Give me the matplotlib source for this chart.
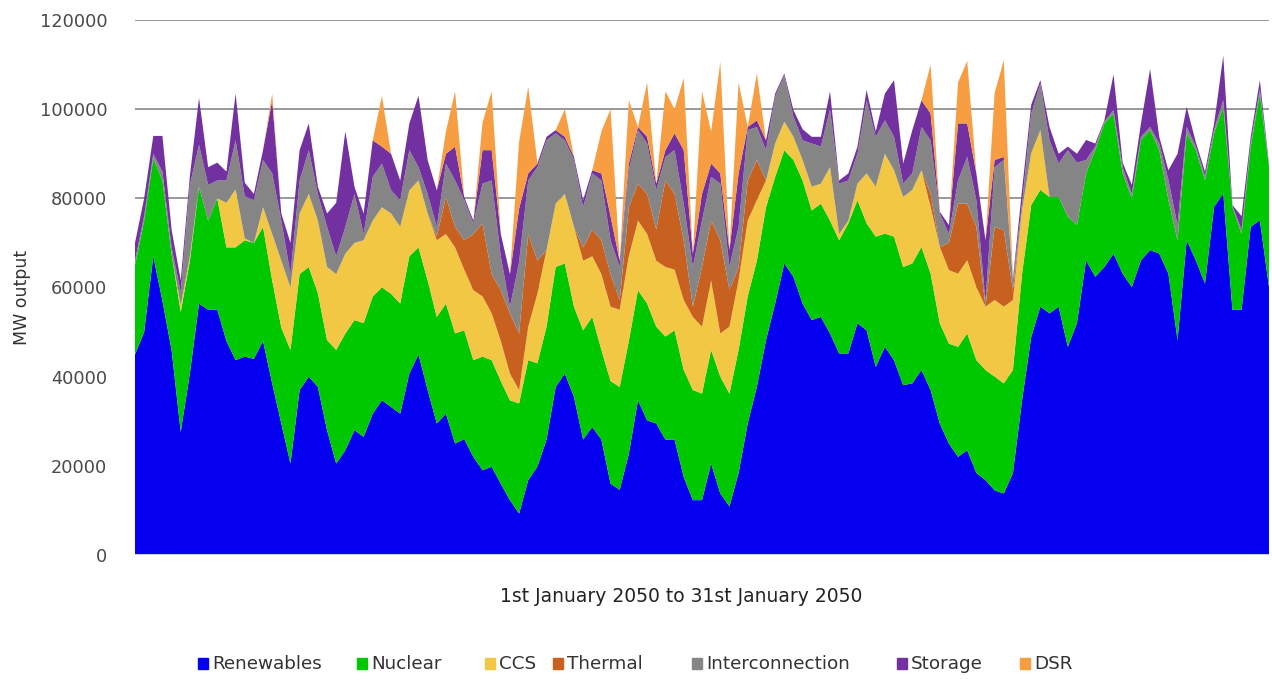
import matplotlib.pyplot as plt
import numpy as np
from matplotlib.patches import Rectangle

# hours through January 2050, one reading every 6 hours
hours = np.arange(0, 745, 6)

series_names = ['Renewables', 'Nuclear', 'CCS', 'Thermal', 'Interconnection', 'Storage', 'DSR']

renewables = [45000, 50000, 67000, 57000, 46000, 27600, 40700, 56400, 55000, 55000,
              48000, 43700, 44500, 44000, 48000, 38500, 29500, 20500, 37000, 40000,
              37700, 28000, 20500, 23500, 28000, 26500, 31700, 34700, 33200, 31700,
              40700, 45000, 37000, 29500, 31700, 25000, 26000, 22000, 19000, 19800,
              16000, 12300, 9300, 16800, 19800, 25900, 37700, 40700, 35500, 25900,
              28700, 25900, 16000, 14600, 22700, 34700, 30200, 29500, 25900, 25900,
              17500, 12300, 12300, 20500, 13800, 10900, 18400, 29500, 37700, 48200,
              56400, 65400, 62400, 56400, 52700, 53400, 49700, 45200, 45200, 52000,
              50400, 42200, 46700, 43700, 38100, 38500, 41500, 37000, 29500, 25000,
              22000, 23500, 18400, 16800, 14500, 13800, 18400, 34700, 48900, 55700,
              54200, 55700, 46700, 52000, 66100, 62400, 64600, 67600, 63100, 60100,
              66100, 68400, 67600, 63100, 48200, 70600, 66100, 60900, 78100, 81100,
              55000, 55000, 73600, 75100, 60100]

nuclear = [20000, 25000, 22000, 27000, 21500, 26900, 25300, 26200, 20000, 25000,
           21000, 25300, 26100, 26000, 25600, 23100, 21500, 25500, 26000, 24600,
           21000, 20200, 25500, 26200, 24700, 25500, 26300, 25300, 25400, 24700,
           26300, 24000, 24600, 23900, 24700, 24700, 24400, 21700, 25500, 23900,
           23000, 22400, 24700, 26900, 23200, 25300, 26900, 24700, 20200, 24500,
           24700, 20100, 23000, 23100, 25300, 24700, 26200, 21700, 23100, 24500,
           24000, 24700, 23900, 25500, 26200, 25300, 27600, 28500, 28300, 29800,
           28400, 25400, 26200, 27600, 24600, 25400, 25300, 25400, 29200, 27600,
           24000, 29200, 25400, 27700, 26500, 26900, 27600, 26100, 22500, 22400,
           24700, 26200, 25300, 24700, 25500, 24700, 23100, 28400, 29600, 26200,
           26100, 24600, 29200, 22000, 19500, 28400, 32200, 31400, 22500, 19900,
           27000, 26900, 23200, 16500, 22400, 24000, 24700, 23200, 16500, 19400,
           23100, 17000, 18000, 28400, 27000]

ccs = [0, 0, 0, 0, 0, 1500, 1000, 0, 0, 0,
       10000, 13000, 400, 0, 4400, 10400, 15000, 14000, 13600, 16400,
       16300, 16400, 17000, 17900, 17300, 18600, 17000, 18000, 18000, 17200,
       14800, 15000, 15000, 17200, 15600, 19300, 13600, 15700, 13500, 10500,
       9000, 6000, 3000, 7500, 15600, 17200, 14200, 15600, 17900, 15600,
       13600, 17000, 16700, 17300, 19000, 15600, 15600, 14800, 15600, 13600,
       15700, 16400, 15000, 15600, 9700, 15000, 15600, 17000, 13600, 6000,
       7500, 6400, 5200, 4600, 5300, 4500, 12000, 1400, 600, 3700,
       11200, 11200, 17900, 14900, 15700, 16500, 17200, 15000, 17100, 16500,
       16400, 16400, 16400, 14200, 17200, 17200, 15700, 14300, 11600, 13400,
       0, 0, 0, 0, 0, 0, 0, 0, 0, 0,
       0, 0, 0, 0, 0, 0, 0, 0, 0, 0,
       0, 0, 0, 0, 0]

thermal = [0, 0, 0, 0, 0, 0, 0, 0, 0, 0,
           0, 0, 0, 0, 0, 0, 0, 0, 0, 0,
           0, 0, 0, 0, 0, 0, 0, 0, 0, 0,
           0, 0, 0, 800, 8300, 4600, 6600, 12600, 16400, 8800,
           11400, 13500, 12700, 20800, 7400, 0, 0, 0, 0, 3000,
           6000, 7600, 7300, 2200, 11000, 8300, 9000, 7000, 19400, 17000,
           13400, 2300, 13400, 13400, 20900, 8200, 3000, 9000, 9000, 0,
           0, 0, 0, 0, 0, 0, 0, 0, 0, 0,
           0, 0, 0, 0, 0, 0, 0, 2900, 0, 6100,
           15700, 12700, 13500, 0, 16400, 17200, 2200, 0, 0, 0,
           0, 0, 0, 0, 0, 0, 0, 0, 0, 0,
           0, 0, 0, 0, 0, 0, 0, 0, 0, 0,
           0, 0, 0, 0, 0]

interconnection = [1000, 1000, 1000, 2000, 1500, 3000, 16000, 9400, 8000, 4000,
                   5000, 11000, 9500, 9600, 10600, 13600, 9000, 3000, 7400, 9800,
                   6000, 9000, 4000, 6000, 11000, 1400, 9800, 9800, 5200, 6000,
                   9000, 3000, 4400, 2200, 7500, 10400, 9000, 2400, 8900, 21000,
                   7600, 1500, 16000, 12000, 21000, 24600, 15800, 12000, 15000, 9000,
                   12600, 13400, 7600, 7400, 8300, 12000, 11300, 8800, 5300, 9800,
                   8200, 8900, 10400, 9800, 12700, 5200, 9000, 11300, 7400, 6800,
                   10500, 10400, 4500, 4400, 9700, 8300, 13000, 11300, 9000, 6700,
                   16400, 11200, 7500, 7500, 3000, 3700, 9700, 12000, 7500, 2000,
                   5200, 10500, 6000, 1300, 13400, 15700, 2200, 1600, 8900, 10500,
                   12700, 7500, 14900, 14000, 3000, 800, 400, 800, 1400, 1000,
                   700, 700, 1500, 4500, 3400, 1400, 800, 900, 900, 1500,
                   200, 1000, 900, 1000, 400]

storage = [4000, 4000, 4000, 8000, 4000, 2600, 2000, 10500, 4000, 4000,
           2000, 10500, 3000, 1400, 2200, 16400, 1600, 7000, 6800, 6000,
           1600, 3000, 12000, 21400, 1600, 4600, 8200, 3800, 8200, 4400,
           6000, 16000, 7600, 8200, 2200, 7600, 700, 600, 7500, 6800,
           5000, 7300, 12000, 1600, 800, 800, 700, 800, 700, 1600,
           700, 1600, 5400, 1400, 1500, 700, 1500, 1500, 1500, 3800,
           12000, 3000, 6000, 3000, 2300, 3800, 12000, 700, 1500, 2200,
           700, 400, 1500, 2500, 1500, 2200, 4000, 700, 1600, 1600,
           2300, 1200, 6000, 12700, 4500, 9700, 6000, 6000, 400, 2000,
           12800, 7500, 6000, 13600, 1600, 700, 400, 3000, 2000, 700,
           3000, 2200, 800, 2000, 4500, 700, 300, 8000, 1000, 2000,
           3000, 13000, 1500, 2200, 16000, 4500, 1000, 1000, 1300, 10000,
           200, 3000, 1300, 2000, 300]

dsr = [0, 0, 0, 0, 0, 0, 0, 0, 0, 0,
       0, 0, 0, 0, 0, 1500, 0, 0, 0, 0,
       0, 0, 0, 0, 0, 0, 0, 11400, 0, 0,
       0, 0, 0, 0, 5000, 12400, 0, 0, 6200, 13200,
       0, 0, 15000, 19400, 200, 0, 0, 6200, 0, 0,
       0, 9400, 24000, 0, 14200, 0, 12200, 0, 13200, 5400,
       16200, 0, 23000, 7200, 25000, 0, 20400, 0, 10500, 0,
       0, 0, 0, 0, 0, 0, 0, 0, 0, 0,
       0, 0, 0, 0, 0, 0, 0, 11000, 0, 0,
       9200, 14000, 0, 0, 15000, 21700, 0, 0, 0, 0,
       0, 0, 0, 0, 0, 0, 0, 0, 0, 0,
       0, 0, 0, 0, 0, 0, 0, 0, 0, 0,
       0, 0, 0, 0, 0]

colors = ['#0500f0', '#00c800', '#f2c744', '#c8611f', '#858585', '#7330a0', '#f79e42']

W, H = 1272, 679
fig = plt.figure(figsize=(W / 100, H / 100), dpi=100)
ax = fig.add_axes([135 / W, 1 - 555 / H, (1269 - 135) / W, (555 - 20) / H])

ax.stackplot(hours, renewables, nuclear, ccs, thermal, interconnection, storage, dsr,
             colors=colors, linewidth=0, zorder=2)

ax.set_xlim(0, 744)
ax.set_ylim(0, 120000)
ax.set_yticks(range(0, 120001, 20000))
ax.set_xticks([])
ax.grid(axis='y', color='#999999', linewidth=1.4, zorder=0)
ax.set_axisbelow(True)
ax.axhline(0, color='#c5cbd8', linewidth=1.5, zorder=3)
for s in ax.spines.values():
    s.set_visible(False)
ax.tick_params(axis='y', length=0, pad=20, labelsize=12.8, labelcolor='#4a4a4a')

fig.text(22 / W, 1 - 297 / H, 'MW output', rotation=90, ha='center', va='center',
         fontsize=12.5, color='#333333')
fig.text(681 / W, 1 - 597 / H, '1st January 2050 to 31st January 2050',
         ha='center', va='center', fontsize=13.5, color='#222222')

# legend laid out by hand to match the uneven spacing
legend_x = [198, 357, 485, 553, 692, 897, 1020]
for name, c, lx in zip(series_names, colors, legend_x):
    fig.add_artist(Rectangle((lx / W, 1 - 669 / H), 10 / W, 11 / H,
                             transform=fig.transFigure, color=c))
    fig.text((lx + 14) / W, 1 - 664 / H, name, ha='left', va='center',
             fontsize=13.2, color='#333333')

fig.savefig('out.png', dpi=100)
